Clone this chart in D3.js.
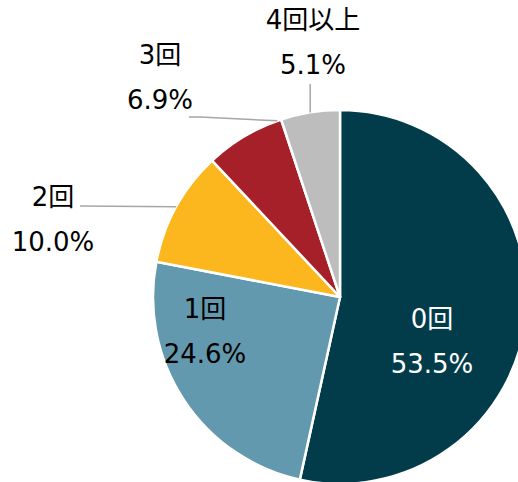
<!DOCTYPE html>
<html><head><meta charset="utf-8">
<script src="https://cdn.jsdelivr.net/npm/d3@7"></script>
<style>html,body{margin:0;padding:0;background:#fff;}svg{display:block;}</style>
</head><body>
<svg id="c" width="518" height="482"></svg>
<script>
const categories = ["0回", "1回", "2回", "3回", "4回以上"];
const values = [53.5, 24.6, 10.0, 6.9, 5.1];
const valueLabels = ["53.5%", "24.6%", "10.0%", "6.9%", "5.1%"];
const colors = ["#023c4b", "#6399ae", "#fdb71e", "#a6202a", "#bcbdbc"];
const labelColors = ["#ffffff", "#000000", "#000000", "#000000", "#000000"];

// layout (offsets from pie centre): label block centre x, first baseline y
const labelLayout = [
  {dx: 92, dy: 31},
  {dx: -135, dy: 21},
  {dx: -287, dy: -91},
  {dx: -180, dy: -233},
  {dx: -27, dy: -268}
];
// leader lines: start points (relative), t = position within slice where it meets the rim
const leaders = [
  null, null,
  {pts: [[-260, -91]], t: 0.5},
  {pts: [[-151, -180], [-140, -180]], t: 0.95},
  {pts: [[null, -213]], t: 0.5}
];

const cx = 340, cy = 297, R = 187;
const svg = d3.select("#c");
const g = svg.append("g").attr("transform", `translate(${cx},${cy})`);

const pie = d3.pie().sort(null).value(d => d)(values);
const arc = d3.arc().innerRadius(0).outerRadius(R);

g.selectAll("path.slice").data(pie).join("path")
  .attr("class", "slice")
  .attr("d", arc)
  .attr("fill", (d, i) => colors[i])
  .attr("stroke", "#fff").attr("stroke-width", 2.5).attr("stroke-linejoin", "round");

// leader lines
pie.forEach((d, i) => {
  const L = leaders[i];
  if (!L) return;
  const a = d.startAngle + (d.endAngle - d.startAngle) * L.t;
  const ex = R * Math.sin(a), ey = -R * Math.cos(a);
  const pts = L.pts.map(p => [p[0] === null ? ex : p[0], p[1]]);
  pts.push([ex, ey]);
  g.append("path")
    .attr("d", d3.line()(pts))
    .attr("fill", "none").attr("stroke", "#a6a6a6").attr("stroke-width", 1.5);
});

const font = "'DejaVu Sans', Verdana, 'Noto Sans CJK JP', sans-serif";
pie.forEach((d, i) => {
  const lay = labelLayout[i];
  const t = g.append("text")
    .attr("text-anchor", "middle")
    .attr("font-family", font)
    .attr("font-size", 26)
    .attr("fill", labelColors[i]);
  t.append("tspan").attr("x", lay.dx).attr("y", lay.dy).text(categories[i]);
  t.append("tspan").attr("x", lay.dx).attr("y", lay.dy + 45).text(valueLabels[i]);
});
</script>
</body></html>
